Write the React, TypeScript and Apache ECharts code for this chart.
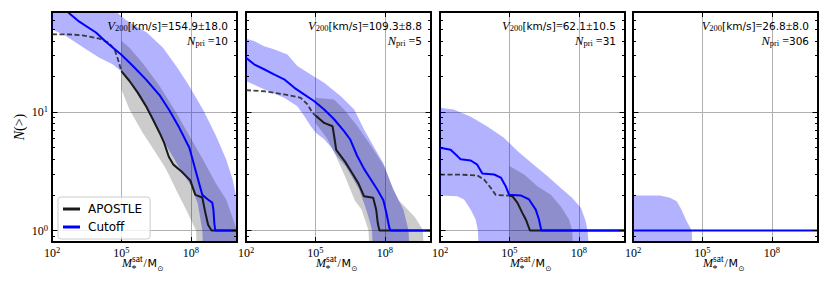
import React, { useEffect, useRef } from "react";
import * as echarts from "echarts";

// ---------- axis settings ----------
const X_MIN = 1e2;
const X_MAX = 1e10;
const Y_MIN = 0.8;
const Y_MAX = 70;
const xLabelValues = [1e2, 1e5, 1e8];
const xTickValues = [1e5, 1e8];
const yMajorValues = [1, 10];
const yMinorValues = [0.9, 2, 3, 4, 5, 6, 7, 8, 9, 20, 30, 40, 50, 60, 70];

// ---------- panel annotations ----------
const v200Values = ["154.9", "109.3", "62.1", "26.8"];
const v200Errors = ["18.0", "8.8", "10.5", "8.0"];
const nPriValues = ["10", "5", "31", "306"];
const legendNames = ["APOSTLE", "Cutoff"];

// ---------- data: [log10(M*/Msun), N(>)] ----------
// Panel 1
const p1Cutoff = [[2.6, 73], [2.68, 70], [3.18, 58], [3.9, 47], [4.34, 39], [5.0, 30.5], [5.5, 24.5], [6.07, 18.8], [6.64, 14], [7.08, 10.3], [7.5, 7.4], [7.94, 5.0], [8.23, 3.1], [8.5, 2.0], [8.74, 1.83], [8.93, 1.72], [8.98, 1.5], [9.02, 1.15], [9.06, 1.0], [10, 1.0]];
const p1Apostle = [[5.0, 22.2], [5.35, 18.3], [5.71, 14.6], [6.07, 11.2], [6.36, 8.7], [6.65, 6.7], [6.85, 5.5], [7.05, 4.2], [7.25, 3.6], [7.6, 3.15], [7.98, 2.65], [8.2, 2.0], [8.5, 1.9], [8.62, 1.45], [8.75, 1.12], [8.9, 1.0], [10, 1.0]];
const p1ApostleExt = [[2.0, 45.4], [2.8, 45.2], [3.32, 44.5], [4.05, 41.7], [4.45, 38.6], [4.7, 34], [4.85, 28], [4.95, 24], [5.0, 22.2]];
const p1CutoffUpper = [[2.0, 100], [4.7, 72], [5.2, 60], [5.5, 55], [6.1, 47], [6.8, 35], [7.4, 24], [7.9, 17], [8.23, 13.2], [8.55, 10.3], [9.09, 6.3], [9.53, 4.0], [9.81, 2.7], [10, 1.8]];
const p1CutoffLower = [[2.0, 50], [2.6, 43.9], [3.47, 33.9], [4.05, 28.8], [4.62, 25.3], [5.0, 22], [5.35, 18], [5.7, 14], [6.07, 10.8], [6.5, 7.5], [7.0, 5.0], [7.5, 3.4], [8.0, 2.4], [8.3, 1.7], [8.5, 1.0], [8.52, 0], [10, 0]];
const p1ApostleUpper = [[5.0, 40], [5.35, 35], [5.92, 26], [6.65, 16.6], [7.37, 9.9], [7.94, 6.3], [8.52, 4.0], [9.09, 2.5], [9.53, 1.83], [9.89, 1.16], [10, 1.0]];
const p1ApostleLower = [[5.0, 15.6], [5.35, 10.5], [5.92, 6.7], [6.5, 4.5], [6.93, 3.3], [7.37, 2.2], [7.8, 1.5], [8.23, 1.0], [8.25, 0], [10, 0]];

// Panel 2
const p2Cutoff = [[2.0, 28.8], [2.35, 25.3], [2.78, 23], [3.21, 20.8], [3.65, 18.9], [4.08, 16.1], [4.51, 14.1], [4.94, 12.4], [5.38, 10.5], [5.81, 8.7], [6.24, 6.9], [6.5, 5.9], [6.8, 4.3], [7.11, 3.3], [7.4, 2.7], [7.69, 2.2], [7.94, 1.8], [8.09, 1.35], [8.2, 1.05], [8.26, 1.0], [10, 1.0]];
const p2Apostle = [[5.02, 9.3], [5.38, 8.1], [5.74, 7.6], [5.8, 6.5], [5.9, 4.8], [6.29, 3.8], [6.58, 3.07], [6.86, 2.5], [7.1, 1.95], [7.5, 1.89], [7.63, 1.5], [7.7, 1.15], [7.77, 1.0], [10, 1.0]];
const p2ApostleExt = [[2.0, 15.3], [2.78, 15.0], [3.65, 14.1], [4.37, 13.2], [4.66, 11.6], [4.87, 9.9], [5.02, 9.3]];
const p2CutoffUpper = [[2.0, 41.7], [2.35, 39.8], [2.78, 36], [3.21, 33.9], [3.79, 30.7], [4.22, 24.5], [4.8, 20.8], [5.38, 17.7], [6.1, 13.6], [6.68, 10.5], [7.11, 7.1], [7.6, 4.8], [7.94, 3.7], [8.38, 2.2], [8.81, 1.5], [9.03, 1.0], [9.05, 0]];
const p2CutoffLower = [[2.0, 18.3], [2.78, 15.6], [3.65, 13.2], [4.22, 11.2], [4.51, 9.3], [4.8, 7.6], [5.02, 6.7], [5.38, 5.9], [5.7, 5.0], [5.95, 4.2], [6.3, 3.5], [6.6, 2.8], [6.9, 2.2], [7.15, 1.6], [7.35, 1.2], [7.45, 1.0], [7.47, 0], [9.05, 0]];
const p2ApostleUpper = [[5.0, 13.2], [5.81, 12.8], [6.24, 10.5], [6.82, 7.6], [7.4, 5.2], [7.97, 3.5], [8.3, 2.4], [8.6, 1.8], [9.0, 1.5], [9.3, 1.3], [9.6, 1.05], [9.65, 1.0], [9.67, 0]];
const p2ApostleLower = [[5.0, 8.1], [5.5, 6.0], [5.9, 4.2], [6.3, 2.8], [6.7, 1.8], [7.0, 1.5], [7.3, 1.0], [7.32, 0], [9.67, 0]];

// Panel 3
const p3Cutoff = [[2.0, 5.0], [2.46, 4.8], [2.75, 4.25], [2.89, 4.0], [3.33, 3.9], [3.61, 3.6], [3.83, 3.03], [4.34, 2.97], [4.63, 2.8], [4.84, 2.37], [4.99, 2.0], [5.49, 1.98], [5.85, 1.83], [6.14, 1.5], [6.28, 1.24], [6.38, 1.0], [10, 1.0]];
const p3Apostle = [[5.0, 1.97], [5.13, 1.95], [5.35, 1.71], [5.56, 1.41], [5.71, 1.24], [5.89, 1.0], [10, 1.0]];
const p3ApostleExt = [[2.0, 2.97], [2.75, 2.97], [3.61, 2.92], [3.9, 2.7], [4.19, 2.3], [4.41, 2.0], [4.77, 1.98], [5.0, 1.97]];
const p3CutoffUpper = [[2.0, 10.9], [2.59, 10.5], [3.31, 9.2], [4.03, 7.6], [4.75, 6.1], [5.4, 4.6], [6.05, 3.6], [6.63, 2.9], [7.21, 2.3], [7.7, 1.9], [8.1, 1.55], [8.3, 1.2], [8.38, 1.0], [8.42, 0]];
const p3CutoffLower = [[2.0, 1.98], [2.75, 1.95], [3.04, 1.83], [3.33, 1.5], [3.54, 1.24], [3.64, 1.0], [3.66, 0], [8.42, 0]];
const p3ApostleUpper = [[5.0, 3.5], [5.64, 2.97], [6.21, 2.37], [6.79, 2.0], [7.22, 1.6], [7.58, 1.24], [7.72, 1.0], [7.74, 0]];
const p3ApostleLower = [[5.0, 0], [7.74, 0]];

// Panel 4
const p4Cutoff = [[2.0, 1.0], [10, 1.0]];
const p4CutoffUpper = [[2.0, 1.98], [3.17, 1.98], [3.6, 1.89], [3.89, 1.77], [4.1, 1.5], [4.32, 1.2], [4.54, 1.0], [4.56, 0]];
const p4CutoffLower = [[2.0, 0], [4.56, 0]];

const panels = [
  { cutoff: p1Cutoff, apostle: p1Apostle, apostleExt: p1ApostleExt, cutoffUpper: p1CutoffUpper, cutoffLower: p1CutoffLower, apostleUpper: p1ApostleUpper, apostleLower: p1ApostleLower },
  { cutoff: p2Cutoff, apostle: p2Apostle, apostleExt: p2ApostleExt, cutoffUpper: p2CutoffUpper, cutoffLower: p2CutoffLower, apostleUpper: p2ApostleUpper, apostleLower: p2ApostleLower },
  { cutoff: p3Cutoff, apostle: p3Apostle, apostleExt: p3ApostleExt, cutoffUpper: p3CutoffUpper, cutoffLower: p3CutoffLower, apostleUpper: p3ApostleUpper, apostleLower: p3ApostleLower },
  { cutoff: p4Cutoff, apostle: null, apostleExt: null, cutoffUpper: p4CutoffUpper, cutoffLower: p4CutoffLower, apostleUpper: null, apostleLower: null },
];

// ---------- layout / style ----------
const GRID_LEFTS = [52, 246, 440, 633];
const GRID_TOP = 12;
const GRID_W = 185;
const GRID_H = 230;
const SERIF = "Liberation Serif";
const SANS = "DejaVu Sans";
const BLUE = "#0000ff";
const BLUE_BAND = "rgba(0,0,255,0.3)";
const GRAY_BAND = "rgba(0,0,0,0.2)";
const BLACK = "#1a1a1a";

const toPts = (arr: number[][]) => arr.map(([lm, n]) => [Math.pow(10, lm), n]);

const supRich = {
  b: { fontFamily: SERIF, fontSize: 12, lineHeight: 15, color: "#000" },
  s: { fontFamily: SERIF, fontSize: 8.5, lineHeight: 8, verticalAlign: "top", color: "#000" },
};
const powLabel = (v: number) => `{b|10}{s|${Math.round(Math.log10(v))}}`;

function bandSeries(upper: number[][], lower: number[][], color: string, xi: number, yi: number) {
  const pts = [...toPts(upper), ...toPts(lower).reverse()].map(([m, n]) => [m, Math.max(n, Y_MIN)]);
  return {
    type: "custom",
    xAxisIndex: xi,
    yAxisIndex: yi,
    clip: true,
    silent: true,
    z: 1,
    data: pts,
    encode: { x: 0, y: 1 },
    renderItem: (params: any, api: any) => {
      if (params.dataIndex !== 0) return null;
      const points = pts.map((p) => api.coord(p));
      return { type: "polygon", shape: { points }, style: { fill: color } };
    },
  };
}

function lineSeries(name: string | undefined, arr: number[][], color: string, xi: number, yi: number, dashed: boolean, z: number) {
  return {
    type: "line",
    name,
    xAxisIndex: xi,
    yAxisIndex: yi,
    data: toPts(arr),
    showSymbol: false,
    symbol: "none",
    clip: true,
    silent: true,
    z,
    itemStyle: { color },
    lineStyle: { color, width: dashed ? 1.8 : 2, type: dashed ? [5, 2.5] : "solid", opacity: dashed ? 0.85 : 1 },
  };
}

function buildOption() {
  const grid: any[] = [];
  const xAxis: any[] = [];
  const yAxis: any[] = [];
  const series: any[] = [];
  const graphic: any[] = [];

  panels.forEach((p, i) => {
    const left = GRID_LEFTS[i];
    grid.push({ left, top: GRID_TOP, width: GRID_W, height: GRID_H, containLabel: false, outerBoundsMode: "none" });
    const xBase = { type: "log", gridIndex: i, min: X_MIN, max: X_MAX, logBase: 10 };
    const yBase = { type: "log", gridIndex: i, min: Y_MIN, max: Y_MAX, logBase: 10 };
    xAxis.push({
      ...xBase,
      position: "bottom",
      axisLine: { show: true, onZero: false, lineStyle: { color: "#000", width: 2 } },
      axisTick: { show: true, inside: true, length: 5, customValues: xTickValues, lineStyle: { color: "#000", width: 1 } },
      axisLabel: { show: true, customValues: xLabelValues, margin: 3, formatter: powLabel, rich: supRich },
      splitLine: { show: true, lineStyle: { color: "#b0b0b0", width: 1 } },
    });
    xAxis.push({
      ...xBase,
      position: "top",
      z: 5,
      axisLine: { show: true, onZero: false, lineStyle: { color: "#000", width: 2 } },
      axisTick: { show: true, inside: true, length: 5, customValues: xTickValues, lineStyle: { color: "#000", width: 1 } },
      axisLabel: { show: false },
      splitLine: { show: false },
    });
    yAxis.push({
      ...yBase,
      position: "left",
      axisLine: { show: true, onZero: false, lineStyle: { color: "#000", width: 2 } },
      axisTick: { show: true, inside: true, length: 5.5, customValues: yMajorValues, lineStyle: { color: "#000", width: 1 } },
      axisLabel: { show: i === 0, customValues: yMajorValues, margin: 4, formatter: powLabel, rich: supRich },
      splitLine: { show: true, lineStyle: { color: "#b0b0b0", width: 1 } },
    });
    yAxis.push({
      ...yBase,
      position: "left",
      z: 5,
      axisLine: { show: false },
      axisTick: { show: true, inside: true, length: 3, customValues: yMinorValues, lineStyle: { color: "#000", width: 1 } },
      axisLabel: { show: false },
      splitLine: { show: false },
    });
    yAxis.push({
      ...yBase,
      position: "right",
      z: 5,
      axisLine: { show: true, onZero: false, lineStyle: { color: "#000", width: 2 } },
      axisTick: { show: true, inside: true, length: 5.5, customValues: yMajorValues, lineStyle: { color: "#000", width: 1 } },
      axisLabel: { show: false },
      splitLine: { show: false },
    });
    yAxis.push({
      ...yBase,
      position: "right",
      z: 5,
      axisLine: { show: false },
      axisTick: { show: true, inside: true, length: 3, customValues: yMinorValues, lineStyle: { color: "#000", width: 1 } },
      axisLabel: { show: false },
      splitLine: { show: false },
    });

    const xi = 2 * i;
    const yi = 4 * i;
    series.push(bandSeries(p.cutoffUpper, p.cutoffLower, BLUE_BAND, xi, yi));
    if (p.apostleUpper && p.apostleLower) series.push(bandSeries(p.apostleUpper, p.apostleLower, GRAY_BAND, xi, yi));
    if (p.apostleExt) series.push(lineSeries(undefined, p.apostleExt, "#222222", xi, yi, true, 3));
    if (p.apostle) series.push(lineSeries(i === 0 ? legendNames[0] : undefined, p.apostle, BLACK, xi, yi, false, 3));
    series.push(lineSeries(i === 0 ? legendNames[1] : undefined, p.cutoff, BLUE, xi, yi, false, 4));

    const right = left + GRID_W;
    const textRich = {
      it: { fontFamily: SERIF, fontStyle: "italic", fontSize: 12.5, lineHeight: 14, color: "#000" },
      sub: { fontFamily: SERIF, fontSize: 8.5, lineHeight: 6, verticalAlign: "bottom", color: "#000" },
      s: { fontFamily: SANS, fontSize: 10.5, lineHeight: 14, color: "#000" },
      r: { fontFamily: SERIF, fontSize: 12, lineHeight: 14, color: "#000" },
    };
    graphic.push({
      type: "text",
      x: right - 9,
      y: 25.5,
      z: 50,
      style: {
        text: `{it|V}{sub|200}{s|[km/s]}{r|=}{s|${v200Values[i]}}{r|±}{s|${v200Errors[i]}}`,
        rich: textRich,
        align: "right",
        verticalAlign: "middle",
      },
    });
    graphic.push({
      type: "text",
      x: right - 9,
      y: 40.5,
      z: 50,
      style: {
        text: `{it|N}{sub|pri}{r| =}{s|${nPriValues[i]}}`,
        rich: textRich,
        align: "right",
        verticalAlign: "middle",
      },
    });

    // x axis title
    const cx = left + GRID_W / 2;
    graphic.push({
      type: "group",
      x: cx,
      y: 263,
      z: 50,
      children: [
        { type: "text", x: -22.5, y: 0, style: { text: "M", fontFamily: SERIF, fontStyle: "italic", fontSize: 12, fill: "#000", align: "left", verticalAlign: "middle" } },
        { type: "text", x: -12.5, y: -4, style: { text: "sat", fontFamily: SERIF, fontSize: 9.5, fill: "#000", align: "left", verticalAlign: "middle" } },
        { type: "text", x: -13, y: 5.5, style: { text: "*", fontFamily: SERIF, fontSize: 10, fill: "#000", align: "left", verticalAlign: "middle" } },
        { type: "text", x: -1, y: 0, style: { text: "/", fontFamily: SERIF, fontSize: 12, fill: "#000", align: "left", verticalAlign: "middle" } },
        { type: "text", x: 3, y: 0, style: { text: "M", fontFamily: SANS, fontSize: 11, fill: "#000", align: "left", verticalAlign: "middle" } },
        { type: "text", x: 12.8, y: 5, style: { text: "⊙", fontFamily: SANS, fontSize: 7.5, fill: "#000", align: "left", verticalAlign: "middle" } },
      ],
    });
  });

  // y axis title
  graphic.push({
    type: "text",
    x: 19,
    y: 127,
    rotation: Math.PI / 2,
    z: 50,
    style: {
      text: "{it|N}{r|(>)}",
      rich: {
        it: { fontFamily: SERIF, fontStyle: "italic", fontSize: 14, color: "#000" },
        r: { fontFamily: SERIF, fontSize: 14, color: "#000" },
      },
      align: "center",
      verticalAlign: "middle",
    },
  });

  return {
    animation: false,
    backgroundColor: "#ffffff",
    textStyle: { fontFamily: SANS },
    grid,
    xAxis,
    yAxis,
    series,
    graphic,
    legend: {
      data: legendNames,
      orient: "vertical",
      left: 58,
      top: 197,
      icon: "rect",
      itemWidth: 17,
      itemHeight: 3,
      itemGap: 4,
      padding: [5, 8, 5, 5],
      backgroundColor: "rgba(255,255,255,0.8)",
      borderColor: "#cccccc",
      borderWidth: 1,
      borderRadius: 3,
      selectedMode: false,
      z: 20,
      itemStyle: { borderWidth: 0 },
      textStyle: { fontFamily: SANS, fontSize: 12, color: "#000", lineHeight: 14, padding: [0, 0, 0, 3] },
    },
  };
}

export default function App() {
  const ref = useRef<HTMLDivElement>(null);
  useEffect(() => {
    if (!ref.current) return;
    const chart = echarts.init(ref.current, null, { renderer: "svg" });
    chart.setOption(buildOption() as any);
    return () => chart.dispose();
  }, []);
  return <div ref={ref} style={{ position: "fixed", left: 0, top: 0, width: 830, height: 291, background: "#fff" }} />;
}
